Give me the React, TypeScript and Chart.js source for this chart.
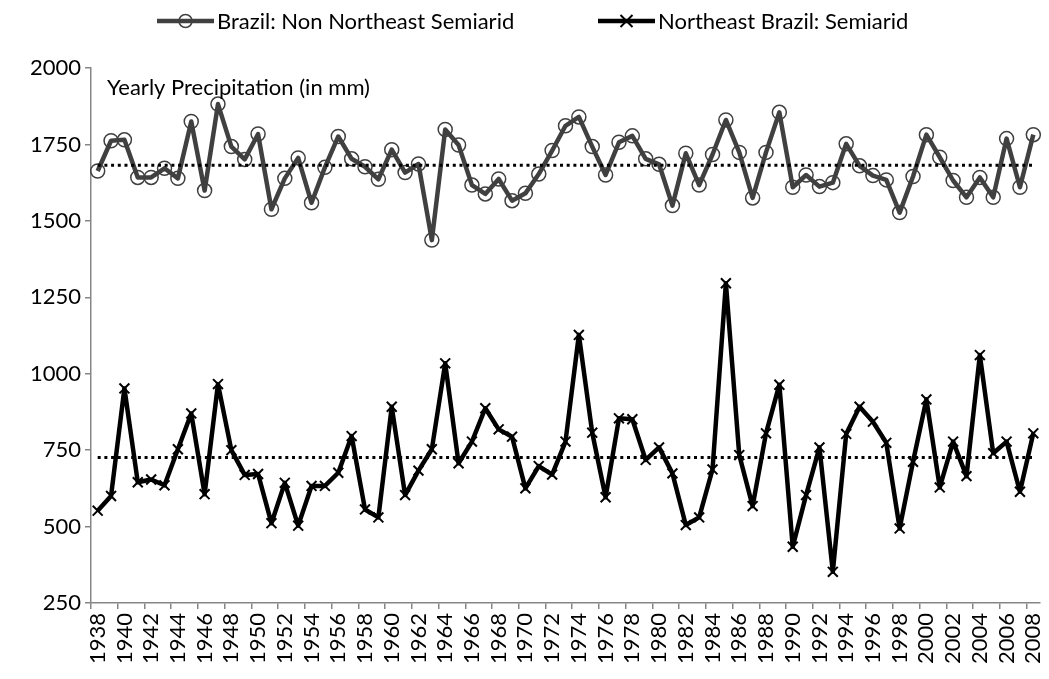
import React, { useEffect, useRef } from "react";
import { Chart, registerables } from "chart.js";

Chart.register(...registerables);

const years = [
  "1938", "1939", "1940", "1941", "1942", "1943", "1944", "1945", "1946", "1947",
  "1948", "1949", "1950", "1951", "1952", "1953", "1954", "1955", "1956", "1957",
  "1958", "1959", "1960", "1961", "1962", "1963", "1964", "1965", "1966", "1967",
  "1968", "1969", "1970", "1971", "1972", "1973", "1974", "1975", "1976", "1977",
  "1978", "1979", "1980", "1981", "1982", "1983", "1984", "1985", "1986", "1987",
  "1988", "1989", "1990", "1991", "1992", "1993", "1994", "1995", "1996", "1997",
  "1998", "1999", "2000", "2001", "2002", "2003", "2004", "2005", "2006", "2007",
  "2008",
];

const nonNortheastSemiarid = [
  1663, 1762, 1765, 1642, 1642, 1672, 1639, 1825, 1599, 1882,
  1743, 1701, 1784, 1538, 1639, 1706, 1559, 1675, 1776, 1703,
  1677, 1636, 1733, 1658, 1686, 1437, 1799, 1748, 1617, 1588,
  1637, 1566, 1590, 1653, 1730, 1811, 1840, 1743, 1650, 1757,
  1778, 1703, 1685, 1550, 1721, 1617, 1717, 1830, 1724, 1575,
  1724, 1855, 1610, 1650, 1612, 1625, 1752, 1680, 1648, 1634,
  1527, 1645, 1782, 1708, 1632, 1577, 1642, 1577, 1769, 1610,
  1782,
];

const northeastSemiarid = [
  552, 600, 952, 645, 654, 635, 753, 870, 606, 966,
  750, 669, 672, 511, 643, 503, 633, 633, 676, 796,
  556, 530, 892, 603, 683, 753, 1034, 707, 778, 887,
  818, 794, 625, 698, 670, 778, 1127, 807, 596, 854,
  851, 718, 759, 674, 505, 530, 687, 1296, 734, 567,
  805, 964, 434, 603, 759, 352, 803, 892, 843, 774,
  494, 712, 916, 628, 778, 665, 1061, 740, 778, 614,
  805,
];

const averageNonNortheast = 1682;
const averageNortheast = 726;

const yTickValues = [250, 500, 750, 1000, 1250, 1500, 1750, 2000];

const seriesNames = ["Brazil: Non Northeast Semiarid", "Northeast Brazil: Semiarid"];
const annotationText = "Yearly Precipitation (in mm)";

const GRAY = "#404040";
const BLACK = "#000000";
const AXIS = "#868686";
const FONT = "Lato";
const TICK_SIZE = 22;
const TEXT_SIZE = 22;

const overlayPlugin = {
  id: "overlay",
  afterDraw(chart: any) {
    const ctx = chart.ctx as CanvasRenderingContext2D;
    const area = chart.chartArea;
    ctx.save();
    ctx.font = `${TEXT_SIZE}px ${FONT}`;
    ctx.fillStyle = "#000";
    ctx.textBaseline = "middle";
    ctx.textAlign = "left";

    ctx.fillText(annotationText, area.left + 16, area.top + 20);

    const ly = 21;
    const items = [
      { x: 157, color: GRAY, marker: "circle", text: seriesNames[0] },
      { x: 598, color: BLACK, marker: "cross", text: seriesNames[1] },
    ];
    items.forEach((it) => {
      const len = 57;
      ctx.strokeStyle = it.color;
      ctx.lineWidth = 4.5;
      ctx.lineCap = "butt";
      ctx.beginPath();
      ctx.moveTo(it.x, ly);
      ctx.lineTo(it.x + len, ly);
      ctx.stroke();
      const cx = it.x + len / 2;
      if (it.marker === "circle") {
        ctx.lineWidth = 1.5;
        ctx.beginPath();
        ctx.arc(cx, ly, 6.5, 0, Math.PI * 2);
        ctx.stroke();
      } else {
        ctx.lineWidth = 2;
        const r = 6;
        ctx.beginPath();
        ctx.moveTo(cx - r, ly - r);
        ctx.lineTo(cx + r, ly + r);
        ctx.moveTo(cx - r, ly + r);
        ctx.lineTo(cx + r, ly - r);
        ctx.stroke();
      }
      ctx.fillStyle = "#000";
      ctx.fillText(it.text, it.x + len + 3, ly + 1);
    });
    ctx.restore();
  },
};

export default function App() {
  const canvasRef = useRef<HTMLCanvasElement | null>(null);

  useEffect(() => {
    if (!canvasRef.current) return;
    const chart = new Chart(canvasRef.current, {
      type: "line",
      data: {
        labels: years,
        datasets: [
          {
            label: "avg1",
            data: years.map(() => averageNonNortheast),
            borderColor: BLACK,
            borderWidth: 3,
            borderDash: [3, 3.7],
            pointRadius: 0,
            fill: false,
            tension: 0,
            order: 0,
          },
          {
            label: "avg2",
            data: years.map(() => averageNortheast),
            borderColor: BLACK,
            borderWidth: 3,
            borderDash: [3, 3.7],
            pointRadius: 0,
            fill: false,
            tension: 0,
            order: 0,
          },
          {
            label: seriesNames[0],
            data: nonNortheastSemiarid,
            borderColor: GRAY,
            borderWidth: 4.5,
            borderJoinStyle: "round",
            pointStyle: "circle",
            pointRadius: 7,
            pointBorderWidth: 1.5,
            pointBorderColor: GRAY,
            pointBackgroundColor: "rgba(0,0,0,0)",
            fill: false,
            tension: 0,
            order: 1,
          },
          {
            label: seriesNames[1],
            data: northeastSemiarid,
            borderColor: BLACK,
            borderWidth: 4.5,
            borderJoinStyle: "round",
            pointStyle: "crossRot",
            pointRadius: 7,
            pointBorderWidth: 2,
            pointBorderColor: BLACK,
            pointBackgroundColor: BLACK,
            fill: false,
            tension: 0,
            order: 1,
          },
        ],
      },
      options: {
        animation: false,
        responsive: false,
        maintainAspectRatio: false,
        layout: { padding: { top: 68, right: 7, left: 0, bottom: 0 } },
        plugins: {
          legend: { display: false },
          tooltip: { enabled: false },
          title: { display: false },
        },
        scales: {
          x: {
            type: "category",
            offset: true,
            grid: {
              display: true,
              offset: true,
              drawOnChartArea: false,
              drawTicks: true,
              tickLength: 6,
              lineWidth: 1.5,
              color: (c: any) =>
                c.index !== undefined && c.index % 2 === 0 ? AXIS : "rgba(0,0,0,0)",
            },
            border: { display: true, color: AXIS, width: 1.5 },
            ticks: {
              autoSkip: false,
              maxRotation: 90,
              minRotation: 90,
              padding: 4,
              color: "#000",
              font: { family: FONT, size: TICK_SIZE },
              callback: (_v: any, i: number) => (i % 2 === 0 ? years[i] : ""),
            },
            afterFit: (s: any) => {
              s.height = 76;
              s.paddingLeft = 0;
              s.paddingRight = 0;
            },
          },
          y: {
            type: "linear",
            min: yTickValues[0],
            max: yTickValues[yTickValues.length - 1],
            afterBuildTicks: (s: any) => {
              s.ticks = yTickValues.map((v) => ({ value: v }));
            },
            grid: {
              display: true,
              drawOnChartArea: false,
              drawTicks: true,
              tickLength: 6,
              lineWidth: 1.5,
              color: AXIS,
            },
            border: { display: true, color: AXIS, width: 1.5 },
            ticks: {
              padding: 4,
              color: "#000",
              font: { family: FONT, size: TICK_SIZE },
              callback: (v: any) => String(v),
            },
            afterFit: (s: any) => {
              s.width = 91;
              s.paddingTop = 0;
              s.paddingBottom = 0;
            },
          },
        },
      },
      plugins: [overlayPlugin],
    });
    return () => chart.destroy();
  }, []);

  return (
    <div style={{ position: "fixed", left: 0, top: 0, width: 1049, height: 679, background: "#fff" }}>
      <canvas ref={canvasRef} width={1049} height={679} style={{ width: 1049, height: 679, display: "block" }} />
    </div>
  );
}
